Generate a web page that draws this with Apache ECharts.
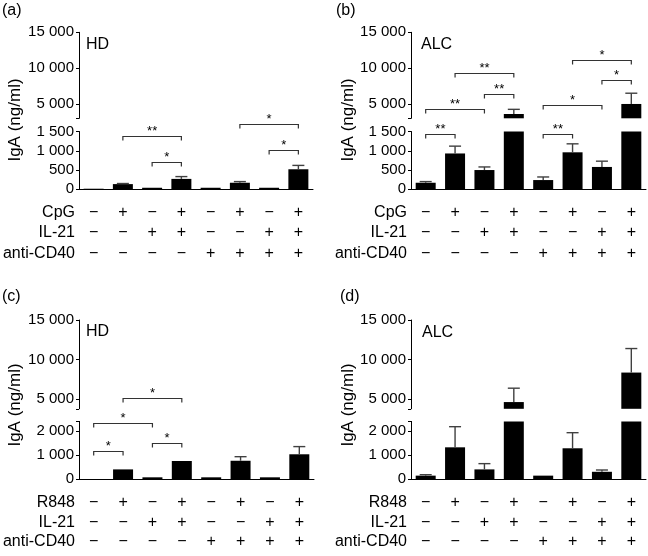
<!DOCTYPE html>
<html><head><meta charset="utf-8">
<script src="https://cdn.jsdelivr.net/npm/echarts@6/dist/echarts.min.js"></script>
<style>html,body{margin:0;padding:0;background:#fff}#c{width:648px;height:556px}</style>
</head><body><div id="c"></div><script>
// ---------- data ----------
const categories = ['1','2','3','4','5','6','7','8'];
const rowStim   = ['−','+','−','+','−','+','−','+'];
const rowIL21   = ['−','−','+','+','−','−','+','+'];
const rowCD40   = ['−','−','−','−','+','+','+','+'];
const rowNamesCpG  = ['CpG','IL-21','anti-CD40'];
const rowNamesR848 = ['R848','IL-21','anti-CD40'];

const meanA = [15, 135, 40, 270, 40, 170, 40, 520];
const errA  = [15, 150, 40, 330, 40, 200, 40, 620];
const meanB = [170, 930, 500, 3600, 240, 960, 580, 5000];
const errB  = [200, 1120, 580, 4250, 320, 1180, 730, 6500];
const meanC = [0, 400, 70, 750, 70, 760, 70, 1030];
const errC  = [0, 400, 70, 750, 70, 930, 70, 1350];
const meanD = [140, 1320, 400, 4650, 140, 1280, 300, 8370];
const errD  = [180, 2180, 640, 6400, 140, 1930, 375, 11400];

// [fromBar, toBar, level, stars, part]
const bracketsA = [[1,3,1390,'**','lower'],[2,3,715,'*','lower'],[5,7,1684,'*','lower'],[6,7,1018,'*','lower']];
const bracketsB = [[0,1,1425,'**','lower'],[0,2,4260,'**','upper'],[2,3,6400,'**','upper'],[1,3,9370,'**','upper'],
                   [4,5,1425,'**','lower'],[4,6,4860,'*','upper'],[6,7,8350,'*','upper'],[5,7,11200,'*','upper']];
const bracketsC = [[0,1,1170,'*','lower'],[0,2,2320,'*','lower'],[2,3,1510,'*','lower'],[1,3,5200,'*','upper']];
const bracketsD = [];

const upperTicks   = [5000, 10000, 15000];
const lowerTicksAB = [0, 500, 1000, 1500];
const lowerTicksCD = [0, 1000, 2000];

// ---------- layout ----------
const panels = [
  {mean:meanA, err:errA, br:bracketsA, names:rowNamesCpG, tag:'HD', letter:'(a)', upMin:3000, lowMax:1500, lowTicks:lowerTicksAB,
   left:79, width:234, upTop:32.3, upBottom:118.3, lowTop:131.5, lowBottom:189.3, rowY:[213,233,254], titleX:15, titleY:120, letterX:2, letterY:11, tagX:86, tagY:45},
  {mean:meanB, err:errB, br:bracketsB, names:rowNamesCpG, tag:'ALC', letter:'(b)', upMin:3000, lowMax:1500, lowTicks:lowerTicksAB,
   left:411, width:235, upTop:32.3, upBottom:118.3, lowTop:131.5, lowBottom:189.3, rowY:[213,233,254], titleX:348, titleY:120, letterX:336, letterY:11, tagX:421, tagY:45},
  {mean:meanC, err:errC, br:bracketsC, names:rowNamesR848, tag:'HD', letter:'(c)', upMin:3800, lowMax:2400, lowTicks:lowerTicksCD,
   left:79, width:235, upTop:320, upBottom:408.8, lowTop:421.4, lowBottom:479, rowY:[503,523,542], titleX:15, titleY:405, letterX:2, letterY:297, tagX:86, tagY:332},
  {mean:meanD, err:errD, br:bracketsD, names:rowNamesR848, tag:'ALC', letter:'(d)', upMin:3800, lowMax:2400, lowTicks:lowerTicksCD,
   left:411, width:235, upTop:320, upBottom:408.8, lowTop:421.4, lowBottom:479, rowY:[503,523,542], titleX:348, titleY:405, letterX:340, letterY:297, tagX:422, tagY:333}
];

const FONT = 'Liberation Sans, Arial, Helvetica, sans-serif';
const fmt = v => String(v).replace(/\B(?=(\d{3})+(?!\d))/g, ' ');

const grid = [], xAxis = [], yAxis = [], series = [], graphic = [];

function errRender(params, api) {
  const i = api.value(0);
  const p0 = api.coord([i, api.value(1)]);
  const p1 = api.coord([i, api.value(2)]);
  const st = {stroke:'#404040', lineWidth:1.4};
  return {type:'group', children:[
    {type:'line', shape:{x1:p0[0], y1:p0[1], x2:p1[0], y2:p1[1]}, style:st},
    {type:'line', shape:{x1:p1[0]-6, y1:p1[1], x2:p1[0]+6, y2:p1[1]}, style:st}
  ]};
}
function makeBracketRender(list) {
  return function (params, api) {
    const b = list[params.dataIndex];
    const p1 = api.coord([b[0], b[2]]);
    const p2 = api.coord([b[1], b[2]]);
    const y = Math.round(p1[1]) + 0.5;
    return {type:'group', children:[
      {type:'polyline', shape:{points:[[p1[0], y+4],[p1[0], y],[p2[0], y],[p2[0], y+4]]},
       style:{stroke:'#333', lineWidth:1.2, fill:null}},
      {type:'text', x:(p1[0]+p2[0])/2, y:y-5,
       style:{text:b[3], fontSize:13, fontFamily:FONT, fill:'#000', align:'center', verticalAlign:'middle', textAlign:'center', textVerticalAlign:'middle'}}
    ]};
  };
}

panels.forEach((p, k) => {
  const gU = grid.length, gL = gU + 1;
  grid.push({left:p.left, width:p.width, top:p.upTop, height:p.upBottom - p.upTop});
  grid.push({left:p.left, width:p.width, top:p.lowTop, height:p.lowBottom - p.lowTop});

  const xU = xAxis.length;
  xAxis.push({type:'category', gridIndex:gU, data:categories, show:false});
  const xL = xAxis.length;
  xAxis.push({type:'category', gridIndex:gL, data:categories, position:'bottom',
    axisLine:{onZero:false, lineStyle:{color:'#000', width:1}}, axisTick:{show:false}, axisLabel:{show:false}});
  [rowStim, rowIL21, rowCD40].forEach((row, r) => {
    xAxis.push({type:'category', gridIndex:gL, data:row, position:'bottom', offset:p.rowY[r] - p.lowBottom,
      axisLine:{show:false, onZero:false}, axisTick:{show:false},
      axisLabel:{margin:0, verticalAlign:'middle', fontSize:16, color:'#000', fontFamily:FONT, interval:0},
      name:p.names[r], nameLocation:'start', nameGap:4,
      nameTextStyle:{fontSize:16, color:'#000', fontFamily:FONT, align:'right', verticalAlign:'middle'}});
  });

  const yCommon = {type:'value', splitLine:{show:false},
    axisLine:{show:true, lineStyle:{color:'#000', width:1}},
    axisLabel:{fontSize:15, color:'#000', fontFamily:FONT, margin:5, formatter:fmt}};
  const yU = yAxis.length;
  yAxis.push(Object.assign({}, yCommon, {gridIndex:gU, min:p.upMin, max:15000,
    axisTick:{show:true, length:3, lineStyle:{color:'#000'}, customValues:[p.upMin].concat(upperTicks)},
    axisLabel:Object.assign({}, yCommon.axisLabel, {customValues:upperTicks})}));
  const yL = yAxis.length;
  const lowTickVals = p.lowTicks.indexOf(p.lowMax) >= 0 ? p.lowTicks : p.lowTicks.concat([p.lowMax]);
  yAxis.push(Object.assign({}, yCommon, {gridIndex:gL, min:0, max:p.lowMax,
    axisTick:{show:true, length:3, lineStyle:{color:'#000'}, customValues:lowTickVals},
    axisLabel:Object.assign({}, yCommon.axisLabel, {customValues:p.lowTicks})}));

  series.push({type:'bar', xAxisIndex:xU, yAxisIndex:yU, barWidth:20, clip:true, silent:true,
    itemStyle:{color:'#000'}, data:p.mean.map(v => v > p.upMin ? v : '-')});
  series.push({type:'bar', xAxisIndex:xL, yAxisIndex:yL, barWidth:20, clip:true, silent:true,
    itemStyle:{color:'#000'}, data:p.mean.slice()});

  const eLow = [], eUp = [];
  p.mean.forEach((m, i) => {
    if (p.err[i] > m) (m > p.lowMax ? eUp : eLow).push([i, m, p.err[i]]);
  });
  series.push({type:'custom', xAxisIndex:xL, yAxisIndex:yL, renderItem:errRender, data:eLow,
    encode:{x:0, y:[1,2]}, clip:false, silent:true, z:5});
  series.push({type:'custom', xAxisIndex:xU, yAxisIndex:yU, renderItem:errRender, data:eUp,
    encode:{x:0, y:[1,2]}, clip:false, silent:true, z:5});

  const bLow = p.br.filter(b => b[4] === 'lower');
  const bUp = p.br.filter(b => b[4] === 'upper');
  series.push({type:'custom', xAxisIndex:xL, yAxisIndex:yL, renderItem:makeBracketRender(bLow),
    data:bLow.map(b => [b[0], b[1], b[2]]), encode:{x:[0,1], y:2}, clip:false, silent:true, z:6});
  series.push({type:'custom', xAxisIndex:xU, yAxisIndex:yU, renderItem:makeBracketRender(bUp),
    data:bUp.map(b => [b[0], b[1], b[2]]), encode:{x:[0,1], y:2}, clip:false, silent:true, z:6});

  graphic.push({type:'text', x:p.letterX, y:p.letterY,
    style:{text:p.letter, fontSize:16, fontFamily:FONT, fill:'#000', textAlign:'left', textVerticalAlign:'middle', align:'left', verticalAlign:'middle'}});
  graphic.push({type:'text', x:p.tagX, y:p.tagY,
    style:{text:p.tag, fontSize:16, fontFamily:FONT, fill:'#000', textAlign:'left', textVerticalAlign:'middle', align:'left', verticalAlign:'middle'}});
  graphic.push({type:'text', x:p.titleX, y:p.titleY, rotation:Math.PI/2,
    style:{text:'IgA (ng/ml)', fontSize:17, fontFamily:FONT, fill:'#000', textAlign:'center', textVerticalAlign:'middle', align:'center', verticalAlign:'middle'}});
});

const chart = echarts.init(document.getElementById('c'), null, {renderer:'canvas'});
chart.setOption({
  animation:false,
  backgroundColor:'#fff',
  textStyle:{fontFamily:FONT},
  grid, xAxis, yAxis, series, graphic
});
</script></body></html>
